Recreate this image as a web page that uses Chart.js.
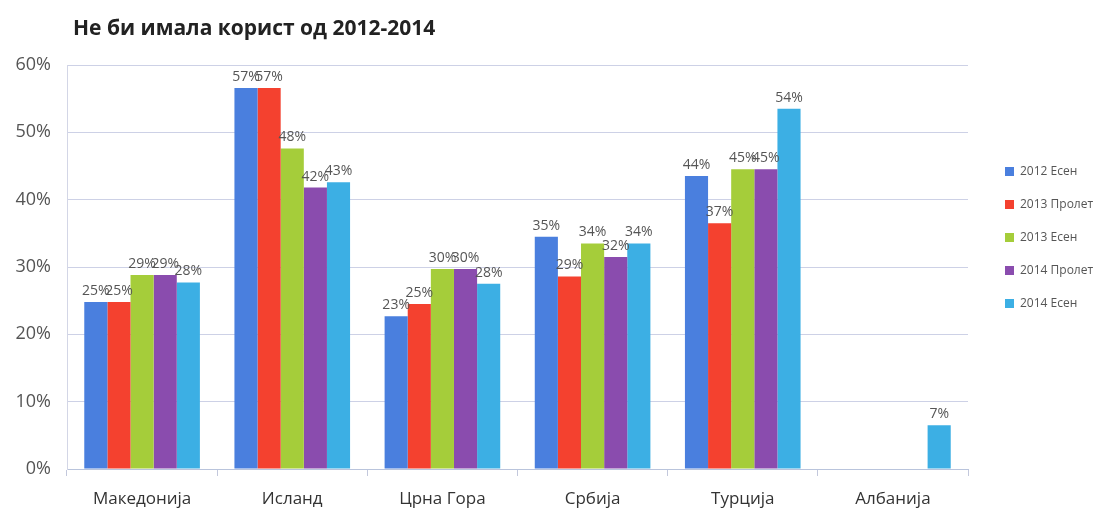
<!DOCTYPE html>
<html>
<head>
<meta charset="utf-8">
<script src="https://cdn.jsdelivr.net/npm/chart.js@4.4.1/dist/chart.umd.min.js"></script>
<style>
    html, body { margin: 0; padding: 0; background: #fff; }
    #wrap { position: relative; width: 1100px; height: 515px; }
    #title {
        position: absolute; left: 73px; top: 13px;
        font: bold 21px "Open Sans", sans-serif; color: #222;
    }
</style>
</head>
<body>
<div id="wrap">
    <div id="title">Не би имала корист од 2012-2014</div>
    <canvas id="chartBenefit" width="1100" height="515"></canvas>
</div>
<script>
// categories and series (percent)
const countries = ['Македонија', 'Исланд', 'Црна Гора', 'Србија', 'Турција', 'Албанија'];
const seriesNames = ['2012 Есен', '2013 Пролет', '2013 Есен', '2014 Пролет', '2014 Есен'];

const autumn2012 = [24.8, 56.6, 22.7, 34.5, 43.5, null];
const spring2013 = [24.8, 56.6, 24.5, 28.6, 36.5, null];
const autumn2013 = [28.8, 47.6, 29.7, 33.5, 44.5, null];
const spring2014 = [28.8, 41.8, 29.7, 31.5, 44.5, null];
const autumn2014 = [27.7, 42.6, 27.5, 33.5, 53.5, 6.5];

const yTicks = [0, 10, 20, 30, 40, 50, 60];

const colors = ['#4a7fde', '#f4412f', '#a5cd3a', '#8a4cae', '#3cafe4'];
const textGrey = '#555555';
const gridColor = '#cdd1e6';

// value labels above each bar
const barLabels = {
    id: 'barLabels',
    afterDatasetsDraw(chart) {
        const ctx = chart.ctx;
        ctx.save();
        ctx.font = '14px "Open Sans", sans-serif';
        ctx.fillStyle = textGrey;
        ctx.textAlign = 'center';
        ctx.textBaseline = 'bottom';
        chart.data.datasets.forEach((ds, i) => {
            chart.getDatasetMeta(i).data.forEach((bar, j) => {
                const v = ds.data[j];
                if (v == null) return;
                ctx.fillText(Math.round(v) + '%', bar.x, bar.y - 4);
            });
        });
        ctx.restore();
    }
};

// legend on the right, drawn from the datasets
const sideLegend = {
    id: 'sideLegend',
    afterDraw(chart) {
        const ctx = chart.ctx;
        ctx.save();
        ctx.font = '12px "Open Sans", sans-serif';
        ctx.textBaseline = 'middle';
        chart.data.datasets.forEach((ds, i) => {
            const y = 172 + i * 33;
            ctx.fillStyle = ds.backgroundColor;
            ctx.fillRect(1005, y - 5, 9, 9);
            ctx.fillStyle = textGrey;
            ctx.fillText(ds.label, 1020, y);
        });
        ctx.restore();
    }
};

const datasetValues = [autumn2012, spring2013, autumn2013, spring2014, autumn2014];

new Chart(document.getElementById('chartBenefit').getContext('2d'), {
    type: 'bar',
    data: {
        labels: countries,
        datasets: datasetValues.map((vals, i) => ({
            label: seriesNames[i],
            data: vals,
            backgroundColor: colors[i],
            borderWidth: 0,
            barPercentage: 1,
            categoryPercentage: 0.77,
        })),
    },
    options: {
        responsive: false,
        animation: false,
        layout: { padding: { top: 65, right: 132, left: 0, bottom: 0 } },
        plugins: {
            legend: { display: false },
            tooltip: { enabled: false },
        },
        scales: {
            x: {
                grid: {
                    offset: true,
                    drawOnChartArea: false,
                    drawTicks: true,
                    tickLength: 7,
                    color: '#c3c8dc',
                },
                border: { display: true, color: '#b9c4dc' },
                ticks: {
                    color: '#333',
                    font: { size: 17, family: '"Open Sans", sans-serif' },
                    padding: 13,
                },
                afterFit(scale) { scale.height = 46; },
            },
            y: {
                min: 0,
                max: 60,
                afterBuildTicks(scale) { scale.ticks = yTicks.map(v => ({ value: v })); },
                grid: { color: gridColor, drawTicks: false },
                border: { display: true, color: '#d3d6e6' },
                ticks: {
                    color: textGrey,
                    font: { size: 18, family: '"Open Sans", sans-serif' },
                    padding: 16,
                    callback: v => v + '%',
                },
                afterFit(scale) { scale.width = 67; },
            },
        },
    },
    plugins: [barLabels, sideLegend],
});
</script>
</body>
</html>
